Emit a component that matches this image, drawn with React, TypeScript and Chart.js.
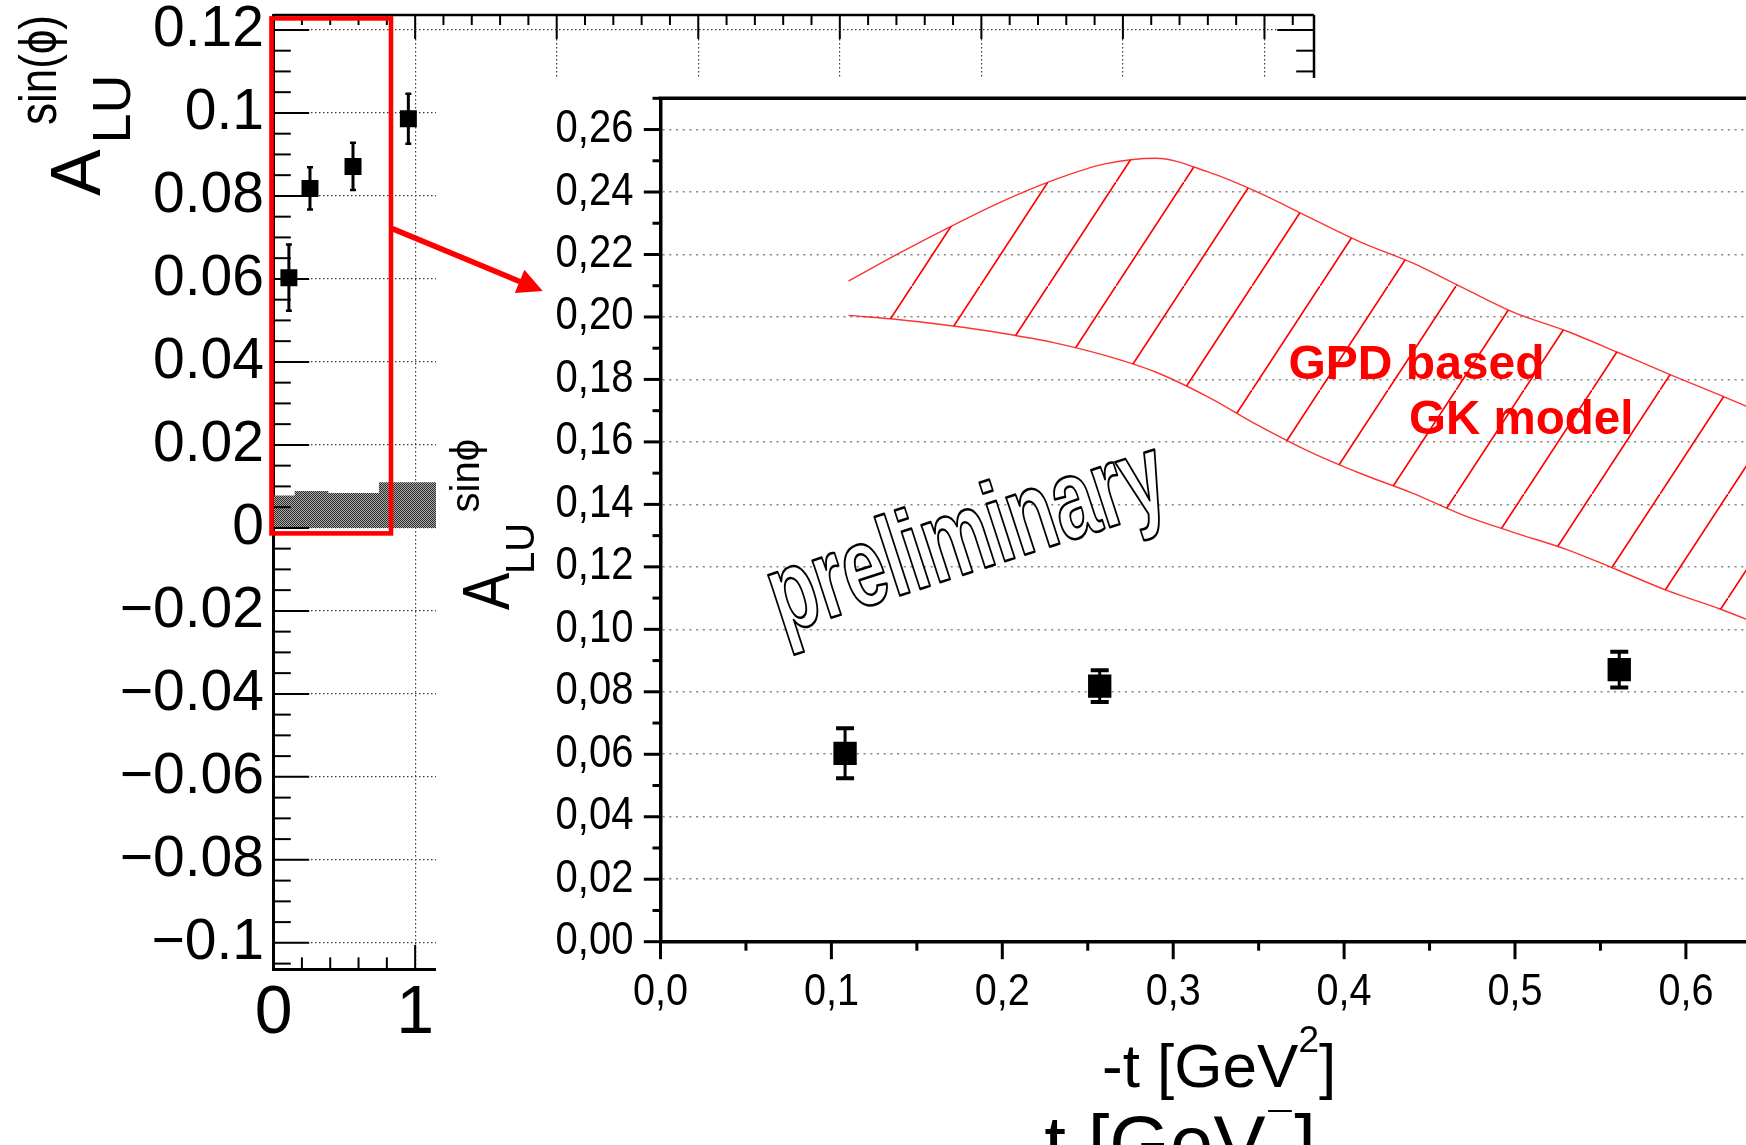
import React, { useEffect, useRef } from 'react';
import { Chart, registerables } from 'chart.js';

Chart.register(...registerables);

// ---------------- data ----------------
const tValues = [0.108, 0.257, 0.561, 0.952];
const aluValues = [0.0603, 0.0818, 0.0871, 0.0986];
const aluErrors = [0.008, 0.0051, 0.0057, 0.006];

const sysBinEdges = [0, 0.149, 0.387, 0.744, 1.2];
const sysValues = [0.0078, 0.0089, 0.0084, 0.011];

const gkT = [0.11, 0.14, 0.17, 0.2, 0.23, 0.26, 0.29, 0.32, 0.35, 0.38, 0.41, 0.44, 0.47, 0.5, 0.53, 0.56, 0.59, 0.62, 0.65, 0.68];
const gkUpper = [0.2115, 0.2205, 0.229, 0.237, 0.2438, 0.249, 0.2508, 0.2465, 0.2398, 0.2318, 0.2239, 0.2173, 0.2092, 0.2013, 0.1955, 0.1887, 0.1817, 0.175, 0.168, 0.161];
const gkLower = [0.2005, 0.1991, 0.1972, 0.1948, 0.1918, 0.1877, 0.1823, 0.1745, 0.1652, 0.1568, 0.1498, 0.1436, 0.1365, 0.1309, 0.1256, 0.119, 0.1122, 0.1065, 0.1, 0.094];

const bgYTicks = [-0.1, -0.08, -0.06, -0.04, -0.02, 0, 0.02, 0.04, 0.06, 0.08, 0.1, 0.12];
const bgYTickLabels = ['\u22120.1', '\u22120.08', '\u22120.06', '\u22120.04', '\u22120.02', '0', '0.02', '0.04', '0.06', '0.08', '0.1', '0.12'];
const bgXTicks = [0, 1, 2, 3, 4, 5, 6, 7];
const bgXTickLabels = ['0', '1', '2', '3', '4', '5', '6', '7'];

const insetYTicks = [0, 0.02, 0.04, 0.06, 0.08, 0.1, 0.12, 0.14, 0.16, 0.18, 0.2, 0.22, 0.24, 0.26];
const insetYTickLabels = ['0,00', '0,02', '0,04', '0,06', '0,08', '0,10', '0,12', '0,14', '0,16', '0,18', '0,20', '0,22', '0,24', '0,26'];
const insetXTicks = [0, 0.1, 0.2, 0.3, 0.4, 0.5, 0.6, 0.7, 0.8, 0.9, 1.0];
const insetXTickLabels = ['0,0', '0,1', '0,2', '0,3', '0,4', '0,5', '0,6', '0,7', '0,8', '0,9', '1,0'];

// ---------------- helpers ----------------
const FONT = '"Liberation Sans", Arial, Helvetica, sans-serif';

type TOpts = {
  weight?: string; angle?: number; sx?: number; align?: CanvasTextAlign;
  fill?: string; stroke?: string; lw?: number; fitLen?: number;
};

function drawText(ctx: CanvasRenderingContext2D, s: string, x: number, y: number, size: number, o: TOpts = {}) {
  ctx.save();
  ctx.translate(x, y);
  if (o.angle) ctx.rotate((o.angle * Math.PI) / 180);
  ctx.font = `${o.weight || 'normal'} ${size}px ${FONT}`;
  const w = ctx.measureText(s).width;
  let sx = o.sx ?? 1;
  if (o.fitLen) sx = o.fitLen / w;
  ctx.scale(sx, 1);
  ctx.textAlign = o.align || 'left';
  ctx.textBaseline = 'alphabetic';
  if (o.fill !== 'none') {
    ctx.fillStyle = o.fill || '#000';
    ctx.fillText(s, 0, 0);
  }
  if (o.stroke) {
    ctx.strokeStyle = o.stroke;
    ctx.lineWidth = o.lw || 1;
    ctx.lineJoin = 'round';
    ctx.strokeText(s, 0, 0);
  }
  ctx.restore();
  return w * sx;
}

function seg(ctx: CanvasRenderingContext2D, x1: number, y1: number, x2: number, y2: number) {
  ctx.beginPath();
  ctx.moveTo(x1, y1);
  ctx.lineTo(x2, y2);
  ctx.stroke();
}

function makeHatch(): CanvasPattern | string {
  const w = 68, h = 104;
  const c = document.createElement('canvas');
  c.width = w; c.height = h;
  const g = c.getContext('2d');
  if (!g) return 'rgba(255,0,0,0.2)';
  g.strokeStyle = '#ff0000';
  g.lineWidth = 1.7;
  for (let k = -1; k <= 1; k++) {
    g.beginPath();
    g.moveTo(k * w, h - k * h);
    g.lineTo(k * w + w, -k * h);
    g.stroke();
  }
  return g.createPattern(c, 'repeat') || 'rgba(255,0,0,0.2)';
}

function makeStipple(): CanvasPattern | string {
  const c = document.createElement('canvas');
  c.width = 2; c.height = 2;
  const g = c.getContext('2d');
  if (!g) return '#777';
  g.fillStyle = '#a8a8a8';
  g.fillRect(0, 0, 2, 2);
  g.fillStyle = '#2e2e2e';
  g.fillRect(0, 0, 1, 1);
  g.fillRect(1, 1, 1, 1);
  return g.createPattern(c, 'repeat') || '#777';
}

function errorBarSets(capRadius: number, lineW: number, capW: number) {
  return tValues.map((t, i) => ({
    data: [
      { x: t, y: aluValues[i] - aluErrors[i] },
      { x: t, y: aluValues[i] + aluErrors[i] },
    ],
    showLine: true,
    borderColor: '#000',
    borderWidth: lineW,
    pointStyle: 'line',
    pointRadius: capRadius,
    pointBorderWidth: capW,
    pointBorderColor: '#000',
    pointBackgroundColor: '#000',
    order: 1,
  }));
}

const zeroPad = (s: any) => { s.paddingLeft = 0; s.paddingRight = 0; s.paddingTop = 0; s.paddingBottom = 0; };

// ---------------- plugins ----------------
const bgDecor = {
  id: 'bgDecor',
  afterDraw(chart: any) {
    const { ctx, chartArea: a, scales: { x, y } } = chart;
    ctx.save();
    ctx.strokeStyle = '#000';
    ctx.lineWidth = 2.5;
    seg(ctx, a.left, a.top, a.right, a.top);
    seg(ctx, a.right, a.top, a.right, a.bottom);
    ctx.lineWidth = 2;
    for (let i = -21; i <= 24; i++) {
      const v = i * 0.005;
      if (v < y.min || v > y.max) continue;
      const p = y.getPixelForValue(v);
      const major = i % 4 === 0;
      seg(ctx, a.left, p, a.left + (major ? 35.6 : 17.2), p);
      seg(ctx, a.right, p, a.right - (major ? 36.7 : 17.8), p);
    }
    for (let i = 0; i <= 36; i++) {
      const v = i * 0.2;
      if (v > x.max) continue;
      const p = x.getPixelForValue(v);
      const major = i % 5 === 0;
      seg(ctx, p, a.bottom, p, a.bottom - (major ? 24 : 11.6));
      seg(ctx, p, a.top, p, a.top + (major ? 24 : 10));
    }
    // y title  A_LU^{sin(phi)}
    drawText(ctx, 'A', 100, 196, 70, { angle: -90 });
    drawText(ctx, 'LU', 130, 143.5, 54, { angle: -90 });
    drawText(ctx, 'sin(\u03D5)', 56, 125, 51, { angle: -90, fitLen: 110 });
    // x title -t [GeV^2] (right aligned at axis end, mostly hidden under the inset)
    ctx.font = `normal 78px ${FONT}`;
    const w1 = ctx.measureText('-t [GeV').width;
    const w3 = ctx.measureText(']').width;
    ctx.font = `normal 52px ${FONT}`;
    const w2 = ctx.measureText('2').width;
    const x0 = a.right + 2 - (w1 + w2 + w3);
    drawText(ctx, '-t [GeV', x0, 1170, 78);
    drawText(ctx, '2', x0 + w1, 1112, 52);
    drawText(ctx, ']', x0 + w1 + w2, 1170, 78);
    ctx.restore();
  },
};

const insetDecor = {
  id: 'insetDecor',
  afterDraw(chart: any) {
    const { ctx, chartArea: a, scales: { x, y } } = chart;
    ctx.save();
    ctx.strokeStyle = '#000';
    ctx.lineWidth = 3;
    for (let i = 0; i <= 27; i++) {
      const v = i * 0.01;
      const p = y.getPixelForValue(v);
      const major = i % 2 === 0;
      seg(ctx, a.left, p, a.left - (major ? 16.7 : 8), p);
    }
    for (let i = 0; i <= 20; i++) {
      const v = i * 0.05;
      const p = x.getPixelForValue(v);
      const major = i % 2 === 0;
      seg(ctx, p, a.bottom, p, a.bottom + (major ? 17.5 : 9));
    }
    ctx.lineWidth = 3.5;
    seg(ctx, a.left - 1.75, a.top, a.right, a.top);

    // tick labels (slightly condensed, as in the original)
    insetYTicks.forEach((v, i) => {
      drawText(ctx, insetYTickLabels[i], a.left - 27, y.getPixelForValue(v) + 12.5, 46, { sx: 0.87, align: 'right' });
    });
    insetXTicks.forEach((v, i) => {
      drawText(ctx, insetXTickLabels[i], x.getPixelForValue(v), a.bottom + 63.3, 44, { sx: 0.9, align: 'center' });
    });

    // watermark
    drawText(ctx, 'preliminary', 541.5, 492.3, 114, {
      weight: 'bold', angle: -18, sx: 0.67, align: 'center', fill: '#fff', stroke: '#000', lw: 2.6,
    });
    // model label
    drawText(ctx, 'GPD based', 852.5, 300.5, 48, { weight: 'bold', fill: '#ff0000' });
    drawText(ctx, 'GK model', 973, 356, 47.5, { weight: 'bold', fill: '#ff0000' });

    // y title A_LU^{sin phi}
    drawText(ctx, 'A', 73.3, 532, 66, { angle: -90, sx: 0.85 });
    drawText(ctx, 'LU', 98.3, 496, 40, { angle: -90 });
    drawText(ctx, 'sin\u03D5', 43.3, 434.5, 40, { angle: -90 });

    // x title -t [GeV^2]
    let cx = 666;
    cx += drawText(ctx, '-t [GeV', cx, 1009.3, 62);
    cx += drawText(ctx, '2', cx, 973.7, 37);
    drawText(ctx, ']', cx, 1009.3, 62);
    ctx.restore();
  },
};

export default function App() {
  const bgRef = useRef<HTMLCanvasElement>(null);
  const inRef = useRef<HTMLCanvasElement>(null);

  useEffect(() => {
    if (!bgRef.current || !inRef.current) return;
    const stipple = makeStipple();
    const hatch = makeHatch();

    const sysData = sysBinEdges.map((e, i) => ({ x: e, y: sysValues[Math.min(i, sysValues.length - 1)] }));
    const points = tValues.map((t, i) => ({ x: t, y: aluValues[i] }));

    const bg = new Chart(bgRef.current, {
      type: 'line',
      data: {
        datasets: [
          {
            data: points, showLine: false, pointStyle: 'rect', pointRadius: 12,
            pointBackgroundColor: '#000', pointBorderWidth: 0, order: 0,
          } as any,
          ...(errorBarSets(3, 3, 2.5) as any[]),
          {
            data: sysData, stepped: 'before', fill: 'origin', backgroundColor: stipple,
            borderColor: 'rgba(0,0,0,0)', borderWidth: 0, pointRadius: 0, order: 5,
          } as any,
        ],
      },
      options: {
        responsive: false,
        animation: false,
        events: [],
        layout: { padding: { left: 0, top: 15, right: 432, bottom: 0 } },
        plugins: { legend: { display: false }, tooltip: { enabled: false } },
        scales: {
          x: {
            type: 'linear', min: 0, max: 7.35, bounds: 'data',
            afterBuildTicks: (s: any) => { s.ticks = bgXTicks.map((v) => ({ value: v })); },
            afterFit: (s: any) => { s.height = 176; zeroPad(s); },
            ticks: {
              callback: (_v: any, i: number) => bgXTickLabels[i],
              font: { family: FONT, size: 68, lineHeight: 1 }, color: '#000', padding: 11,
              maxRotation: 0, autoSkip: false,
            },
            grid: { color: '#3a3a3a', lineWidth: 1.2, drawTicks: false },
            border: { display: true, color: '#000', width: 3, dash: [1.5, 2.5] },
          },
          y: {
            type: 'linear', min: -0.1063, max: 0.1236, bounds: 'data',
            afterBuildTicks: (s: any) => { s.ticks = bgYTicks.map((v) => ({ value: v })); },
            afterFit: (s: any) => { s.width = 273.6; zeroPad(s); },
            ticks: {
              callback: (_v: any, i: number) => bgYTickLabels[i],
              font: { family: FONT, size: 57, lineHeight: 1 }, color: '#000', padding: 9.6,
              autoSkip: false,
            },
            grid: { color: '#3a3a3a', lineWidth: 1.2, drawTicks: false },
            border: { display: true, color: '#000', width: 3, dash: [1.5, 2.5] },
          },
        },
      } as any,
      plugins: [bgDecor],
    });

    const inset = new Chart(inRef.current, {
      type: 'line',
      data: {
        datasets: [
          {
            data: points, showLine: false, pointStyle: 'rect', pointRadius: 16.5,
            pointBackgroundColor: '#000', pointBorderWidth: 0, order: 0,
          } as any,
          ...(errorBarSets(9, 3, 4) as any[]),
          {
            data: gkT.map((t, i) => ({ x: t, y: gkUpper[i] })),
            borderColor: 'rgba(255,0,0,0.8)', borderWidth: 1.4, pointRadius: 0,
            fill: '+1', backgroundColor: hatch, cubicInterpolationMode: 'monotone', order: 2,
          } as any,
          {
            data: gkT.map((t, i) => ({ x: t, y: gkLower[i] })),
            borderColor: 'rgba(255,0,0,0.8)', borderWidth: 1.4, pointRadius: 0,
            fill: false, cubicInterpolationMode: 'monotone', order: 3,
          } as any,
        ],
      },
      options: {
        responsive: false,
        animation: false,
        events: [],
        layout: { padding: { left: 0, top: 20.3, right: 26.5, bottom: 0 } },
        plugins: { legend: { display: false }, tooltip: { enabled: false } },
        scales: {
          x: {
            type: 'linear', min: 0, max: 1.0, bounds: 'data',
            afterBuildTicks: (s: any) => { s.ticks = insetXTicks.map((v) => ({ value: v })); },
            afterFit: (s: any) => { s.height = 168.3; zeroPad(s); },
            ticks: { display: false, autoSkip: false },
            grid: { display: true, drawOnChartArea: false, drawTicks: false },
            border: { display: true, color: '#000', width: 3.5 },
          },
          y: {
            type: 'linear', min: 0, max: 0.27, bounds: 'data',
            afterBuildTicks: (s: any) => { s.ticks = insetYTicks.map((v) => ({ value: v })); },
            afterFit: (s: any) => { s.width = 224.5; zeroPad(s); },
            ticks: { display: false, autoSkip: false },
            grid: { color: '#8c8c8c', lineWidth: 1.6, drawTicks: false },
            border: { display: true, color: '#000', width: 3.5, dash: [2.2, 4.5] },
          },
        },
      } as any,
      plugins: [insetDecor],
    });

    return () => {
      bg.destroy();
      inset.destroy();
    };
  }, []);

  // arrow geometry (annotation)
  const tip = [542.7, 291];
  const start = [392.3, 228.6];
  const dx = tip[0] - start[0], dy = tip[1] - start[1];
  const len = Math.hypot(dx, dy);
  const ux = dx / len, uy = dy / len;
  const headL = 25, headW = 12.5;
  const bx = tip[0] - headL * ux, by = tip[1] - headL * uy;
  const p1 = `${tip[0]},${tip[1]}`;
  const p2 = `${bx - headW * uy},${by + headW * ux}`;
  const p3 = `${bx + headW * uy},${by - headW * ux}`;

  return (
    <div style={{ position: 'fixed', left: 0, top: 0, width: 1746, height: 1145, overflow: 'hidden', background: '#fff' }}>
      <canvas ref={bgRef} width={1746} height={1145} style={{ position: 'absolute', left: 0, top: 0 }} />
      <div style={{ position: 'absolute', left: 436, top: 78, width: 1310, height: 1032, overflow: 'hidden', background: '#fff' }}>
        <canvas ref={inRef} width={1960} height={1032} style={{ position: 'absolute', left: 0, top: 0 }} />
      </div>
      <svg width={1746} height={1145} style={{ position: 'absolute', left: 0, top: 0, pointerEvents: 'none' }}>
        <rect x={271.5} y={18.4} width={119.5} height={515} fill="none" stroke="#ff0000" strokeWidth={4.6} />
        <line x1={start[0]} y1={start[1]} x2={bx + ux * 2} y2={by + uy * 2} stroke="#ff0000" strokeWidth={5.5} />
        <polygon points={`${p1} ${p2} ${p3}`} fill="#ff0000" />
      </svg>
    </div>
  );
}
